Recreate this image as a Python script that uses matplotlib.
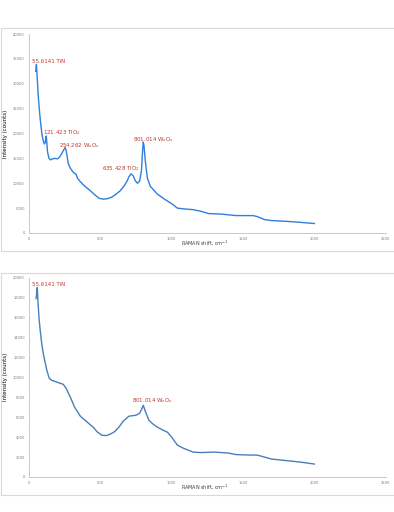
import matplotlib.pyplot as plt
from matplotlib.patches import Rectangle

# top spectrum (annealed sample)
top_x = [47, 52, 56, 60, 65, 72, 80, 90, 100, 108, 114, 118, 121, 124, 130, 140, 150, 165,
         180, 200, 215, 230, 245, 254, 262, 275, 290, 310, 330, 340, 360, 380, 400, 430,
         460, 490, 520, 550, 580, 610, 640, 670, 690, 700, 715, 730, 745, 760, 775, 788,
         796, 801, 806, 815, 830, 850, 900, 950, 1000, 1040, 1100, 1150, 1200, 1260, 1350,
         1450, 1570, 1600, 1650, 1700, 1800, 1900, 2000]
top_y = [32500, 33900, 32000, 30000, 27500, 25000, 22500, 20000, 18500, 17900, 18200, 19200,
         19500, 18500, 16300, 15000, 14700, 14900, 15000, 14900, 15300, 16000, 16800, 17200,
         16300, 14000, 13000, 12200, 11800, 11000, 10300, 9700, 9200, 8500, 7700, 7000, 6800,
         6900, 7200, 7800, 8500, 9600, 10600, 11300, 11900, 11500, 10500, 10000, 10400, 12500,
         16500, 18300, 17500, 14500, 11000, 9400, 7800, 6800, 5900, 5000, 4800, 4700, 4400,
         3900, 3800, 3500, 3500, 3300, 2700, 2500, 2350, 2150, 1900]
top_labels = [(21, 34400, '55.6141 TiN'), (96, 20100, '121.423 TiO$_2$'),
              (208, 17500, '254.262 W$_x$O$_x$'), (509, 12900, '635.428 TiO$_2$'),
              (730, 18750, '801.014 W$_x$O$_x$')]

# bottom spectrum
bot_x = [49, 55, 58, 62, 70, 80, 90, 100, 110, 125, 142, 160, 200, 240, 260, 290, 320, 360,
         400, 450, 480, 510, 540, 570, 600, 630, 660, 700, 750, 775, 790, 801, 815, 840, 870,
         900, 940, 970, 1000, 1040, 1080, 1150, 1200, 1300, 1400, 1450, 1550, 1600, 1650,
         1700, 1800, 1900, 2000]
bot_y = [17900, 18500, 19000, 17800, 16000, 14500, 13300, 12400, 11700, 10700, 9900, 9700,
         9500, 9300, 8900, 8000, 7000, 6100, 5600, 5000, 4500, 4200, 4150, 4300, 4550, 5000,
         5600, 6100, 6200, 6400, 6800, 7200, 6600, 5700, 5300, 5000, 4700, 4500, 4000, 3200,
         2900, 2500, 2450, 2500, 2400, 2250, 2200, 2200, 2000, 1800, 1650, 1500, 1300]
bot_labels = [(21, 19300, '55.6141 TiN'), (719, 7670, '801.014 W$_x$O$_x$')]

W, H = 394, 512
fig = plt.figure(figsize=(W / 100, H / 100), dpi=100)

# light panel frames like the pasted Excel charts
for y0, y1 in [(28, 251), (273, 495)]:
    fig.patches.append(Rectangle((1 / W, 1 - y1 / H), 1.2, (y1 - y0) / H,
                                 transform=fig.transFigure, fill=False,
                                 edgecolor='#D9D9D9', lw=0.8))


def draw(ax, x, y, labels, color, ymax, ystep, xlab_y):
    ax.plot(x, y, color=color, lw=1.0)
    ax.set_xlim(0, 2500)
    ax.set_ylim(0, ymax)
    ax.set_xticks(range(0, 2501, 500))
    ax.set_yticks(range(0, ymax + 1, ystep))
    ax.tick_params(length=0, labelsize=2.6, colors='#7F7F7F', pad=3)
    for s in ['top', 'right']:
        ax.spines[s].set_visible(False)
    for s in ['left', 'bottom']:
        ax.spines[s].set_color('#BFBFBF')
        ax.spines[s].set_linewidth(0.6)
    for lx, ly, txt in labels:
        ax.text(lx, ly, txt, color='#C0392B', fontsize=4, va='center', ha='left')
    ax.set_ylabel('Intensity (counts)', fontsize=4, labelpad=4)
    fig.text(205 / W, 1 - xlab_y / H, 'RAMAN shift, cm$^{-1}$', fontsize=3.5,
             ha='center', va='center', color='#404040')


ax1 = fig.add_axes([29 / W, 1 - 233 / H, 356.7 / W, 199 / H])
draw(ax1, top_x, top_y, top_labels, '#2F7FDB', 40000, 5000, 243)

ax2 = fig.add_axes([29 / W, 1 - 477 / H, 356.7 / W, 199.3 / H])
draw(ax2, bot_x, bot_y, bot_labels, '#4A7EBB', 20000, 2000, 487)

fig.savefig('out.png', dpi=100)
